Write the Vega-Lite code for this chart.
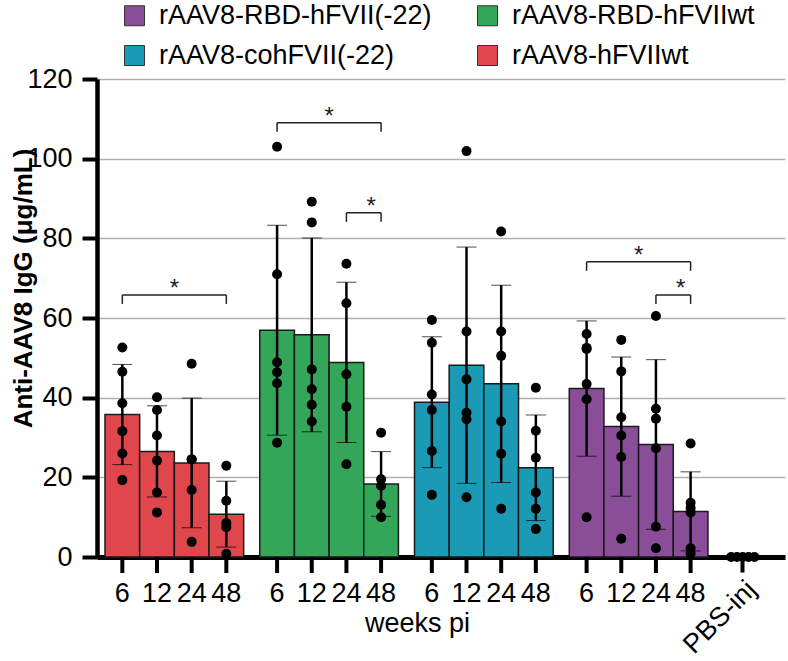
{
  "$schema": "https://vega.github.io/schema/vega-lite/v6.json",
  "width": 688,
  "height": 478,
  "autosize": {"type": "none"},
  "padding": {"left": 97, "top": 79, "right": 3, "bottom": 104},
  "config": {
    "font": "Liberation Sans",
    "view": {"stroke": null},
    "axisY": {
      "domainColor": "black", "domainWidth": 4.5,
      "tickColor": "black", "tickWidth": 4, "tickSize": 15,
      "labelFontSize": 27, "labelColor": "black", "labelPadding": 10,
      "gridColor": "#b0b0b0", "gridWidth": 1.3,
      "titleFontSize": 26, "titleFontWeight": "bold", "titleColor": "black"
    },
    "axisX": {
      "grid": false,
      "domainColor": "black", "domainWidth": 5,
      "tickColor": "black", "tickWidth": 4, "tickSize": 15,
      "labelFontSize": 27, "labelColor": "black",
      "titleFontSize": 27, "titleFontWeight": "normal", "titleColor": "black"
    }
  },
  "datasets": {
    "mice": [
      {"group": "rAAV8-hFVIIwt", "week": "6", "value": 52.6},
      {"group": "rAAV8-hFVIIwt", "week": "6", "value": 46.5},
      {"group": "rAAV8-hFVIIwt", "week": "6", "value": 38.6},
      {"group": "rAAV8-hFVIIwt", "week": "6", "value": 31.6},
      {"group": "rAAV8-hFVIIwt", "week": "6", "value": 26.0},
      {"group": "rAAV8-hFVIIwt", "week": "6", "value": 19.3},
      {"group": "rAAV8-hFVIIwt", "week": "12", "value": 40.1},
      {"group": "rAAV8-hFVIIwt", "week": "12", "value": 36.9},
      {"group": "rAAV8-hFVIIwt", "week": "12", "value": 30.5},
      {"group": "rAAV8-hFVIIwt", "week": "12", "value": 24.2},
      {"group": "rAAV8-hFVIIwt", "week": "12", "value": 16.2},
      {"group": "rAAV8-hFVIIwt", "week": "12", "value": 11.2},
      {"group": "rAAV8-hFVIIwt", "week": "24", "value": 48.5},
      {"group": "rAAV8-hFVIIwt", "week": "24", "value": 24.5},
      {"group": "rAAV8-hFVIIwt", "week": "24", "value": 24.5},
      {"group": "rAAV8-hFVIIwt", "week": "24", "value": 16.8},
      {"group": "rAAV8-hFVIIwt", "week": "24", "value": 3.8},
      {"group": "rAAV8-hFVIIwt", "week": "48", "value": 22.9},
      {"group": "rAAV8-hFVIIwt", "week": "48", "value": 14.1},
      {"group": "rAAV8-hFVIIwt", "week": "48", "value": 8.5},
      {"group": "rAAV8-hFVIIwt", "week": "48", "value": 7.5},
      {"group": "rAAV8-hFVIIwt", "week": "48", "value": 0.8},
      {"group": "rAAV8-RBD-hFVIIwt", "week": "6", "value": 103.0},
      {"group": "rAAV8-RBD-hFVIIwt", "week": "6", "value": 71.0},
      {"group": "rAAV8-RBD-hFVIIwt", "week": "6", "value": 48.9},
      {"group": "rAAV8-RBD-hFVIIwt", "week": "6", "value": 46.4},
      {"group": "rAAV8-RBD-hFVIIwt", "week": "6", "value": 43.6},
      {"group": "rAAV8-RBD-hFVIIwt", "week": "6", "value": 28.7},
      {"group": "rAAV8-RBD-hFVIIwt", "week": "12", "value": 89.2},
      {"group": "rAAV8-RBD-hFVIIwt", "week": "12", "value": 84.0},
      {"group": "rAAV8-RBD-hFVIIwt", "week": "12", "value": 47.1},
      {"group": "rAAV8-RBD-hFVIIwt", "week": "12", "value": 42.1},
      {"group": "rAAV8-RBD-hFVIIwt", "week": "12", "value": 38.2},
      {"group": "rAAV8-RBD-hFVIIwt", "week": "12", "value": 34.0},
      {"group": "rAAV8-RBD-hFVIIwt", "week": "24", "value": 73.6},
      {"group": "rAAV8-RBD-hFVIIwt", "week": "24", "value": 63.7},
      {"group": "rAAV8-RBD-hFVIIwt", "week": "24", "value": 45.9},
      {"group": "rAAV8-RBD-hFVIIwt", "week": "24", "value": 37.7},
      {"group": "rAAV8-RBD-hFVIIwt", "week": "24", "value": 23.3},
      {"group": "rAAV8-RBD-hFVIIwt", "week": "48", "value": 31.2},
      {"group": "rAAV8-RBD-hFVIIwt", "week": "48", "value": 19.5},
      {"group": "rAAV8-RBD-hFVIIwt", "week": "48", "value": 17.9},
      {"group": "rAAV8-RBD-hFVIIwt", "week": "48", "value": 13.1},
      {"group": "rAAV8-RBD-hFVIIwt", "week": "48", "value": 10.0},
      {"group": "rAAV8-cohFVII(-22)", "week": "6", "value": 59.5},
      {"group": "rAAV8-cohFVII(-22)", "week": "6", "value": 53.8},
      {"group": "rAAV8-cohFVII(-22)", "week": "6", "value": 40.8},
      {"group": "rAAV8-cohFVII(-22)", "week": "6", "value": 36.9},
      {"group": "rAAV8-cohFVII(-22)", "week": "6", "value": 26.6},
      {"group": "rAAV8-cohFVII(-22)", "week": "6", "value": 15.6},
      {"group": "rAAV8-cohFVII(-22)", "week": "12", "value": 101.9},
      {"group": "rAAV8-cohFVII(-22)", "week": "12", "value": 56.6},
      {"group": "rAAV8-cohFVII(-22)", "week": "12", "value": 44.6},
      {"group": "rAAV8-cohFVII(-22)", "week": "12", "value": 36.2},
      {"group": "rAAV8-cohFVII(-22)", "week": "12", "value": 34.6},
      {"group": "rAAV8-cohFVII(-22)", "week": "12", "value": 15.0},
      {"group": "rAAV8-cohFVII(-22)", "week": "24", "value": 81.7},
      {"group": "rAAV8-cohFVII(-22)", "week": "24", "value": 56.6},
      {"group": "rAAV8-cohFVII(-22)", "week": "24", "value": 50.5},
      {"group": "rAAV8-cohFVII(-22)", "week": "24", "value": 34.0},
      {"group": "rAAV8-cohFVII(-22)", "week": "24", "value": 25.9},
      {"group": "rAAV8-cohFVII(-22)", "week": "24", "value": 12.1},
      {"group": "rAAV8-cohFVII(-22)", "week": "48", "value": 42.5},
      {"group": "rAAV8-cohFVII(-22)", "week": "48", "value": 31.7},
      {"group": "rAAV8-cohFVII(-22)", "week": "48", "value": 24.9},
      {"group": "rAAV8-cohFVII(-22)", "week": "48", "value": 16.2},
      {"group": "rAAV8-cohFVII(-22)", "week": "48", "value": 12.1},
      {"group": "rAAV8-cohFVII(-22)", "week": "48", "value": 7.0},
      {"group": "rAAV8-RBD-hFVII(-22)", "week": "6", "value": 56.0},
      {"group": "rAAV8-RBD-hFVII(-22)", "week": "6", "value": 52.2},
      {"group": "rAAV8-RBD-hFVII(-22)", "week": "6", "value": 52.5},
      {"group": "rAAV8-RBD-hFVII(-22)", "week": "6", "value": 43.4},
      {"group": "rAAV8-RBD-hFVII(-22)", "week": "6", "value": 39.6},
      {"group": "rAAV8-RBD-hFVII(-22)", "week": "6", "value": 10.0},
      {"group": "rAAV8-RBD-hFVII(-22)", "week": "12", "value": 54.5},
      {"group": "rAAV8-RBD-hFVII(-22)", "week": "12", "value": 46.6},
      {"group": "rAAV8-RBD-hFVII(-22)", "week": "12", "value": 35.1},
      {"group": "rAAV8-RBD-hFVII(-22)", "week": "12", "value": 30.5},
      {"group": "rAAV8-RBD-hFVII(-22)", "week": "12", "value": 25.1},
      {"group": "rAAV8-RBD-hFVII(-22)", "week": "12", "value": 4.6},
      {"group": "rAAV8-RBD-hFVII(-22)", "week": "24", "value": 60.5},
      {"group": "rAAV8-RBD-hFVII(-22)", "week": "24", "value": 37.2},
      {"group": "rAAV8-RBD-hFVII(-22)", "week": "24", "value": 34.7},
      {"group": "rAAV8-RBD-hFVII(-22)", "week": "24", "value": 27.3},
      {"group": "rAAV8-RBD-hFVII(-22)", "week": "24", "value": 7.6},
      {"group": "rAAV8-RBD-hFVII(-22)", "week": "24", "value": 2.2},
      {"group": "rAAV8-RBD-hFVII(-22)", "week": "48", "value": 28.5},
      {"group": "rAAV8-RBD-hFVII(-22)", "week": "48", "value": 13.6},
      {"group": "rAAV8-RBD-hFVII(-22)", "week": "48", "value": 12.3},
      {"group": "rAAV8-RBD-hFVII(-22)", "week": "48", "value": 11.2},
      {"group": "rAAV8-RBD-hFVII(-22)", "week": "48", "value": 2.2},
      {"group": "rAAV8-RBD-hFVII(-22)", "week": "48", "value": 0.9},
      {"group": "PBS-inj", "week": "PBS", "mouse": "1", "value": 0},
      {"group": "PBS-inj", "week": "PBS", "mouse": "2", "value": 0},
      {"group": "PBS-inj", "week": "PBS", "mouse": "3", "value": 0},
      {"group": "PBS-inj", "week": "PBS", "mouse": "4", "value": 0},
      {"group": "PBS-inj", "week": "PBS", "mouse": "5", "value": 0}
    ],
    "brackets": [
      {"group": "rAAV8-hFVIIwt", "from": "6", "to": "48", "level": 65.8},
      {"group": "rAAV8-RBD-hFVIIwt", "from": "6", "to": "48", "level": 109.0},
      {"group": "rAAV8-RBD-hFVIIwt", "from": "24", "to": "48", "level": 86.4},
      {"group": "rAAV8-RBD-hFVII(-22)", "from": "6", "to": "48", "level": 74.1},
      {"group": "rAAV8-RBD-hFVII(-22)", "from": "24", "to": "48", "level": 65.8}
    ]
  },
  "data": {"name": "mice"},
  "layer": [
    {
      "transform": [{"filter": "datum.group != 'PBS-inj'"}],
      "encoding": {
        "x": {
          "field": "group",
          "type": "nominal",
          "scale": {
            "domain": ["rAAV8-hFVIIwt", "rAAV8-RBD-hFVIIwt", "rAAV8-cohFVII(-22)", "rAAV8-RBD-hFVII(-22)"],
            "paddingInner": 0.104,
            "paddingOuter": 0.2748,
            "align": 0.094
          },
          "axis": {
            "orient": "bottom",
            "labels": false,
            "ticks": false,
            "title": "weeks pi",
            "titleX": 320,
            "titleY": 53
          }
        }
      },
      "layer": [
        {
          "mark": {"type": "bar", "stroke": "#1a1a1a", "strokeWidth": 1.5},
          "encoding": {
            "xOffset": {"field": "week", "type": "nominal", "scale": {"domain": ["6", "12", "24", "48"], "paddingInner": 0, "paddingOuter": 0}},
            "y": {
              "aggregate": "mean",
              "field": "value",
              "type": "quantitative",
              "title": "Anti-AAV8 IgG (μg/mL)",
              "scale": {"domain": [0, 120], "nice": false},
              "axis": {"tickCount": 6, "titleY": 209, "titlePadding": -10}
            },
            "color": {
              "field": "group",
              "type": "nominal",
              "scale": {
                "domain": ["rAAV8-RBD-hFVII(-22)", "rAAV8-RBD-hFVIIwt", "rAAV8-cohFVII(-22)", "rAAV8-hFVIIwt"],
                "range": ["#8a4e98", "#33a65a", "#1a9ab5", "#e0474c"]
              },
              "legend": {
                "orient": "none",
                "direction": "horizontal",
                "legendX": 24,
                "legendY": -77,
                "columns": 2,
                "title": null,
                "padding": 0,
                "symbolType": "square",
                "symbolSize": 400,
                "symbolStrokeColor": "#333333",
                "symbolStrokeWidth": 1,
                "labelFontSize": 27,
                "labelColor": "black",
                "labelLimit": 0,
                "labelOffset": 11,
                "columnPadding": 42,
                "rowPadding": 12
              }
            }
          }
        },
        {
          "mark": {
            "type": "errorbar",
            "extent": "stdev",
            "color": "black",
            "rule": {"strokeWidth": 2.5},
            "ticks": {"size": 20, "strokeWidth": 2.5}
          },
          "encoding": {
            "xOffset": {"field": "week", "type": "nominal", "scale": {"domain": ["6", "12", "24", "48"]}},
            "y": {"field": "value", "type": "quantitative", "title": "Anti-AAV8 IgG (μg/mL)"}
          }
        },
        {
          "mark": {"type": "point", "filled": true, "color": "black", "size": 100, "opacity": 1},
          "encoding": {
            "xOffset": {"field": "week", "type": "nominal", "scale": {"domain": ["6", "12", "24", "48"]}},
            "y": {"field": "value", "type": "quantitative", "title": "Anti-AAV8 IgG (μg/mL)"}
          }
        },
        {
          "transform": [
            {"aggregate": [{"op": "count", "as": "n"}], "groupby": ["group", "week"]}
          ],
          "mark": {"type": "text", "fontSize": 27, "color": "black", "baseline": "alphabetic", "dy": 45},
          "encoding": {
            "xOffset": {"field": "week", "type": "nominal", "scale": {"domain": ["6", "12", "24", "48"]}},
            "y": {"datum": 0},
            "text": {"field": "week"}
          }
        },
        {
          "transform": [
            {"aggregate": [{"op": "count", "as": "n"}], "groupby": ["group", "week"]}
          ],
          "mark": {"type": "rule", "color": "black", "strokeWidth": 4, "y2Offset": 16},
          "encoding": {
            "xOffset": {"field": "week", "type": "nominal", "scale": {"domain": ["6", "12", "24", "48"]}},
            "y": {"datum": 0},
            "y2": {"datum": 0}
          }
        },
        {
          "data": {"name": "brackets"},
          "transform": [{"fold": ["from", "to"], "as": ["end", "week"]}],
          "mark": {"type": "line", "color": "#222222", "strokeWidth": 1.5},
          "encoding": {
            "xOffset": {"field": "week", "type": "nominal", "scale": {"domain": ["6", "12", "24", "48"]}},
            "y": {"field": "level", "type": "quantitative", "title": "Anti-AAV8 IgG (μg/mL)"},
            "detail": [{"field": "group"}, {"field": "from"}]
          }
        },
        {
          "data": {"name": "brackets"},
          "transform": [{"fold": ["from", "to"], "as": ["end", "week"]}],
          "mark": {"type": "rule", "color": "#222222", "strokeWidth": 1.5, "y2Offset": 9},
          "encoding": {
            "xOffset": {"field": "week", "type": "nominal", "scale": {"domain": ["6", "12", "24", "48"]}},
            "y": {"field": "level", "type": "quantitative", "title": "Anti-AAV8 IgG (μg/mL)"},
            "y2": {"field": "level"}
          }
        },
        {
          "data": {"name": "brackets"},
          "transform": [{"filter": "datum.from == '6'"}],
          "mark": {"type": "text", "text": "*", "fontSize": 24, "color": "#222222", "baseline": "alphabetic", "dy": 1},
          "encoding": {
            "y": {"field": "level", "type": "quantitative", "title": "Anti-AAV8 IgG (μg/mL)"}
          }
        },
        {
          "data": {"name": "brackets"},
          "transform": [{"filter": "datum.from == '24'"}],
          "mark": {"type": "text", "text": "*", "fontSize": 24, "color": "#222222", "baseline": "alphabetic", "dy": 1, "dx": -10},
          "encoding": {
            "xOffset": {"field": "to", "type": "nominal", "scale": {"domain": ["6", "12", "24", "48"]}},
            "y": {"field": "level", "type": "quantitative", "title": "Anti-AAV8 IgG (μg/mL)"}
          }
        }
      ]
    },
    {
      "transform": [{"filter": "datum.group == 'PBS-inj'"}],
      "mark": {"type": "point", "filled": true, "color": "black", "size": 100, "opacity": 1},
      "encoding": {
        "x": {
          "field": "group",
          "type": "nominal",
          "scale": {"type": "band", "paddingInner": 0.93, "paddingOuter": 1, "align": 0.954},
          "axis": {
            "orient": "bottom",
            "title": null,
            "domain": false,
            "ticks": true,
            "tickSize": 15,
            "tickWidth": 4,
            "tickColor": "black",
            "labelAngle": -45,
            "labelPadding": 4
          }
        },
        "xOffset": {"field": "mouse", "type": "nominal", "scale": {"paddingInner": 0, "paddingOuter": 0}},
        "y": {"field": "value", "type": "quantitative", "title": "Anti-AAV8 IgG (μg/mL)"}
      }
    }
  ],
  "resolve": {
    "scale": {"x": "independent", "xOffset": "independent"},
    "axis": {"x": "independent"}
  }
}
